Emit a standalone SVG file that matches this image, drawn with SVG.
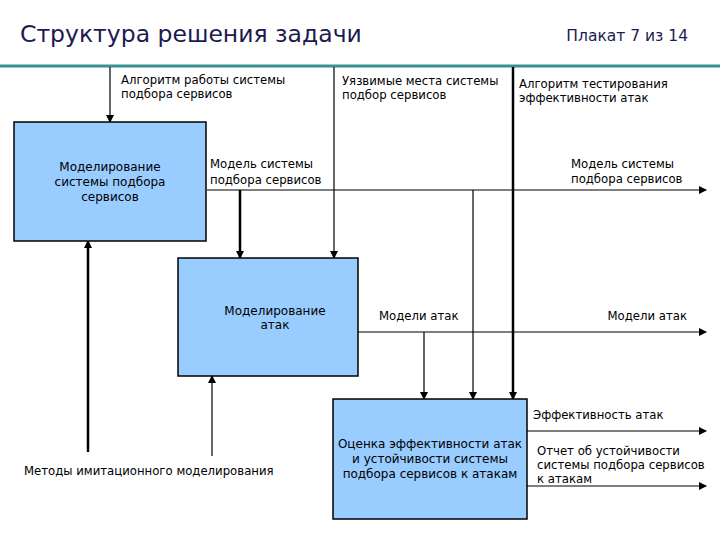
<svg xmlns="http://www.w3.org/2000/svg" width="720" height="540" viewBox="0 0 720 540">
<defs>
<marker id="ah" markerWidth="8" markerHeight="8" refX="7" refY="4" orient="auto" markerUnits="userSpaceOnUse">
<path d="M0,0 L8,4 L0,8 z" fill="#000"/>
</marker>
</defs>
<style>
.box{fill:#99ccff;stroke:#000;stroke-width:1.5}
.t{font-family:"DejaVu Sans",Verdana,sans-serif;font-size:11.7px;fill:#000}
.bt{font-family:"DejaVu Sans",Verdana,sans-serif;font-size:12px;fill:#000;text-anchor:middle}
.l{stroke:#000;stroke-width:1.2;fill:none}
.k{stroke:#000;stroke-width:2.5;fill:none}
.a{marker-end:url(#ah)}
</style>
<rect width="720" height="540" fill="#fff"/>
<text x="20" y="42" font-family="'DejaVu Sans',Verdana,sans-serif" font-size="23.5" fill="#1b1b50">Структура решения задачи</text>
<text x="688" y="41" font-family="'DejaVu Sans',Verdana,sans-serif" font-size="15.5" fill="#1b1b50" text-anchor="end">Плакат 7 из 14</text>
<line x1="0" y1="66" x2="720" y2="66" stroke="#3a9090" stroke-width="3"/>

<g id="connectors">
<line class="l a" x1="110" y1="67" x2="110" y2="122"/>
<line class="l a" x1="207" y1="190" x2="706" y2="190"/>
<line class="k a" x1="240" y1="190" x2="240" y2="258"/>
<line class="l a" x1="334" y1="67" x2="334" y2="258"/>
<line class="l a" x1="473" y1="190" x2="473" y2="399"/>
<line class="k a" x1="513" y1="67" x2="513" y2="399"/>
<line class="l a" x1="358" y1="332" x2="706" y2="332"/>
<line class="l a" x1="424" y1="332" x2="424" y2="399"/>
<line class="k a" x1="88" y1="452" x2="88" y2="241"/>
<line class="l a" x1="212" y1="456" x2="212" y2="376"/>
<line class="l a" x1="527" y1="431" x2="706" y2="431"/>
<line class="l a" x1="527" y1="486" x2="706" y2="486"/>
</g>

<g id="labels">
<text class="t" x="121" y="84">Алгоритм работы системы</text>
<text class="t" x="121" y="98">подбора сервисов</text>
<text class="t" x="342" y="85">Уязвимые места системы</text>
<text class="t" x="342" y="99">подбор сервисов</text>
<text class="t" x="519" y="88">Алгоритм тестирования</text>
<text class="t" x="519" y="102">эффективности атак</text>
<text class="t" x="210" y="168">Модель системы</text>
<text class="t" x="210" y="184">подбора сервисов</text>
<text class="t" x="571" y="168">Модель системы</text>
<text class="t" x="571" y="183">подбора сервисов</text>
<text class="t" x="379" y="320">Модели атак</text>
<text class="t" x="687" y="320" text-anchor="end">Модели атак</text>
<text class="t" x="533" y="419">Эффективность атак</text>
<text class="t" x="537" y="455">Отчет об устойчивости</text>
<text class="t" x="537" y="469">системы подбора сервисов</text>
<text class="t" x="537" y="483">к атакам</text>
<text class="t" x="24" y="475">Методы имитационного моделирования</text>
</g>

<g id="n1">
<rect class="box" x="14" y="122" width="192" height="119"/>
<text class="bt" x="110" y="171">Моделирование</text>
<text class="bt" x="110" y="186">системы подбора</text>
<text class="bt" x="110" y="201">сервисов</text>
</g>
<g id="n2">
<rect class="box" x="178" y="258" width="180" height="118"/>
<text class="bt" x="275" y="315">Моделирование</text>
<text class="bt" x="275" y="329">атак</text>
</g>
<g id="n3">
<rect class="box" x="333" y="399" width="194" height="120"/>
<text class="bt" x="430" y="448">Оценка эффективности атак</text>
<text class="bt" x="430" y="463">и устойчивости системы</text>
<text class="bt" x="430" y="478">подбора сервисов к атакам</text>
</g>
</svg>
